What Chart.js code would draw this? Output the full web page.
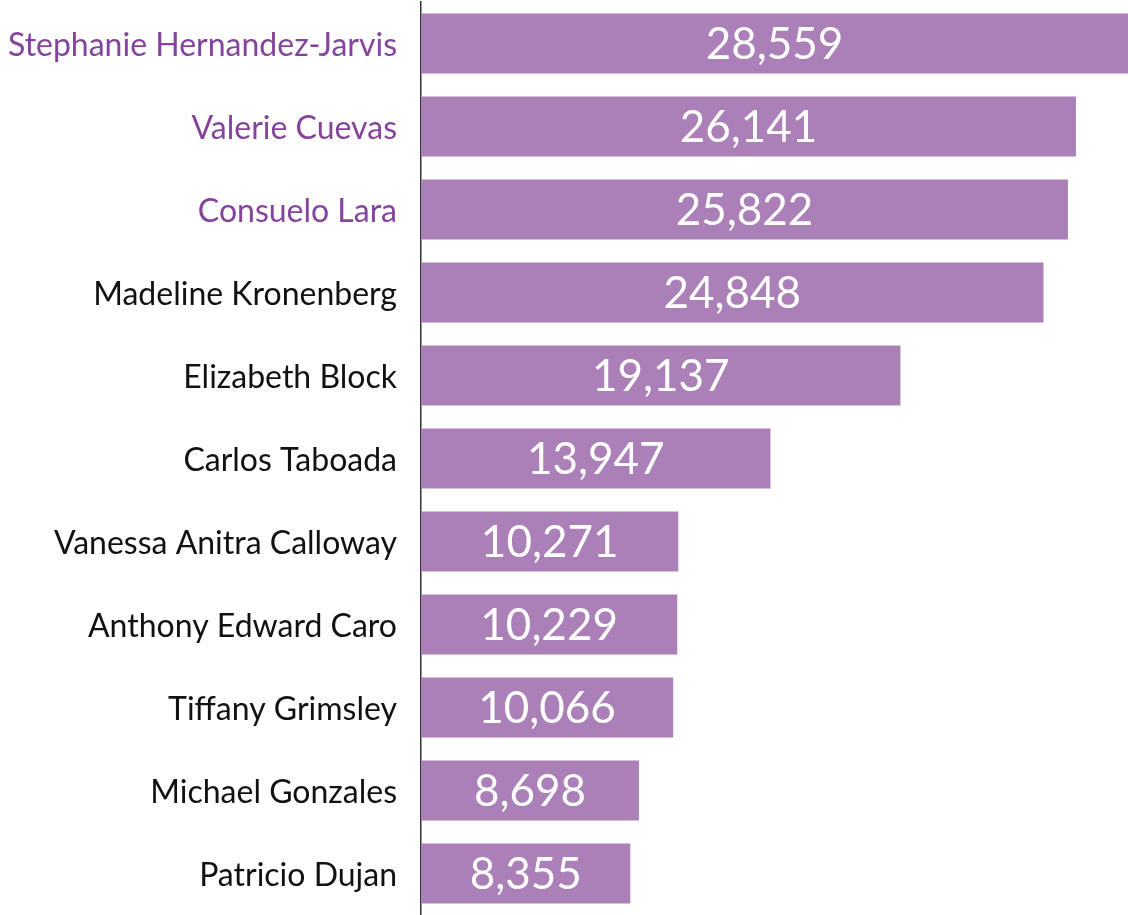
<!DOCTYPE html>
<html>
<head>
<meta charset="utf-8">
<script src="https://cdn.jsdelivr.net/npm/chart.js@4/dist/chart.umd.min.js"></script>
<style>
html,body{margin:0;padding:0;background:#fff;}
#wrap{position:relative;width:1128px;height:915px;}
</style>
</head>
<body>
<div id="wrap"><canvas id="c"></canvas></div>
<script>
const categories = [
  "Stephanie Hernandez-Jarvis",
  "Valerie Cuevas",
  "Consuelo Lara",
  "Madeline Kronenberg",
  "Elizabeth Block",
  "Carlos Taboada",
  "Vanessa Anitra Calloway",
  "Anthony Edward Caro",
  "Tiffany Grimsley",
  "Michael Gonzales",
  "Patricio Dujan"
];
const votes = [28559, 26141, 25822, 24848, 19137, 13947, 10271, 10229, 10066, 8698, 8355];
const highlightedNames = ["Stephanie Hernandez-Jarvis", "Valerie Cuevas", "Consuelo Lara"];

const BAR_COLOR = "#ab80b8";
const HIGHLIGHT_TEXT = "#84449c";
const VALUE_FONT_SIZE = 44;

const valueLabelPlugin = {
  id: "valueLabels",
  afterDatasetsDraw(chart) {
    const { ctx, chartArea } = chart;
    const meta = chart.getDatasetMeta(0);
    ctx.save();
    ctx.font = "400 " + VALUE_FONT_SIZE + "px Lato";
    ctx.fillStyle = "#ffffff";
    ctx.textAlign = "center";
    ctx.textBaseline = "alphabetic";
    meta.data.forEach((bar, i) => {
      const right = Math.min(bar.x, chartArea.right);
      const cx = (bar.base + right) / 2;
      ctx.fillText(votes[i].toLocaleString("en-US"), cx, bar.y + VALUE_FONT_SIZE * 0.358);
    });
    ctx.restore();
  }
};

function draw() {
  new Chart(document.getElementById("c"), {
    type: "bar",
    data: {
      labels: categories,
      datasets: [{
        data: votes,
        backgroundColor: BAR_COLOR,
        borderWidth: 0,
        barPercentage: 0.72,
        categoryPercentage: 1.0
      }]
    },
    options: {
      indexAxis: "y",
      responsive: true,
      maintainAspectRatio: false,
      animation: false,
      layout: { padding: { top: 2, right: 0, bottom: 0, left: 0 } },
      plugins: { legend: { display: false }, tooltip: { enabled: false } },
      scales: {
        x: { display: false, min: 0, max: 28220 },
        y: {
          grid: { display: false, drawTicks: false },
          border: { display: true, color: "#333333", width: 1.5 },
          ticks: {
            padding: 24,
            labelOffset: 2,
            font: { family: "Lato", size: 32, weight: "400" },
            color: (c) => highlightedNames.includes(categories[c.index]) ? HIGHLIGHT_TEXT : "#111111"
          },
          afterFit: (s) => { s.width = 421; s.paddingTop = 0; s.paddingBottom = 0; }
        }
      }
    },
    plugins: [valueLabelPlugin]
  });
}

Promise.all([
  document.fonts.load("400 32px Lato"),
  document.fonts.load("400 44px Lato")
]).then(draw, draw);
</script>
</body>
</html>
